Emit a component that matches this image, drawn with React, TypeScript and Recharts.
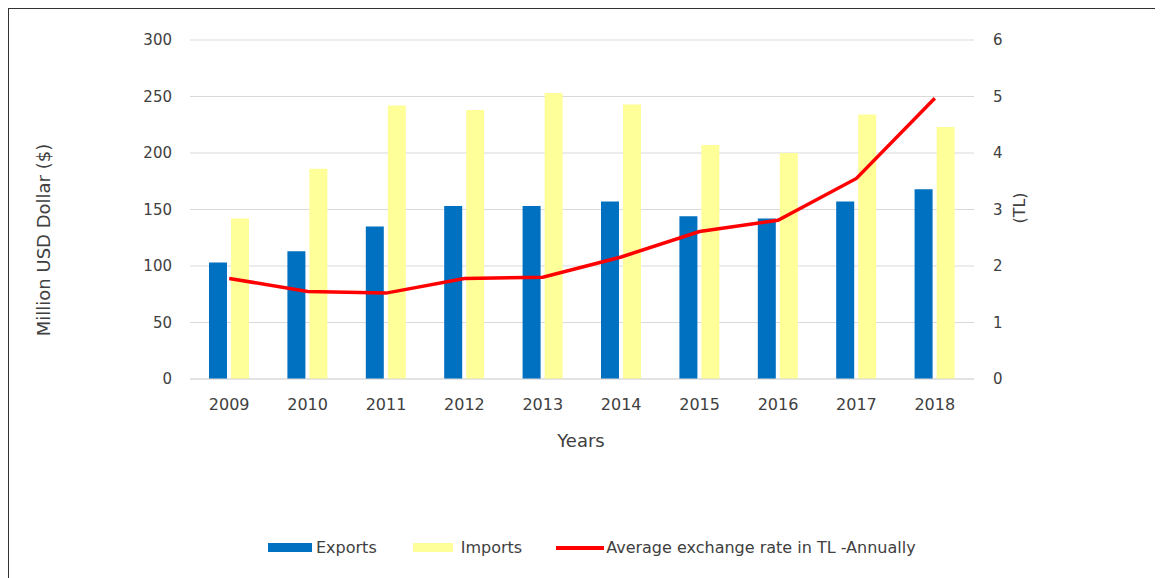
import React from "react";
import {
  ComposedChart,
  Bar,
  Line,
  XAxis,
  YAxis,
  CartesianGrid,
  Label,
} from "recharts";

const years = ["2009", "2010", "2011", "2012", "2013", "2014", "2015", "2016", "2017", "2018"];
const exportsVals = [103, 113, 135, 153, 153, 157, 144, 142, 157, 168];
const importsVals = [142, 186, 242, 238, 253, 243, 207, 200, 234, 223];
const rateVals = [1.78, 1.55, 1.52, 1.78, 1.8, 2.16, 2.61, 2.81, 3.55, 4.97];

const leftTicks = [0, 50, 100, 150, 200, 250, 300];
const rightTicks = [0, 1, 2, 3, 4, 5, 6];

const seriesNames = ["Exports", "Imports", "Average exchange rate in TL -Annually"];

const BLUE = "#0070C0";
const YELLOW = "#FFFF99";
const RED = "#FF0000";
const TEXT = "#404040";
const FONT = "'DejaVu Sans', sans-serif";

const data = years.map((y, i) => ({
  year: y,
  exports: exportsVals[i],
  imports: importsVals[i],
  rate: rateVals[i],
}));

export default function App() {
  return (
    <div
      style={{
        position: "relative",
        width: 1160,
        height: 575,
        border: "1px solid #333",
        boxSizing: "border-box",
        background: "#fff",
        fontFamily: FONT,
      }}
    >
      <ComposedChart
        width={1150}
        height={573}
        data={data}
        margin={{ top: 31, right: 125, bottom: 173, left: 121 }}
        barSize={18}
        barGap={4}
        style={{ fontFamily: FONT }}
      >
        <CartesianGrid yAxisId="left" vertical={false} stroke="#d9d9d9" />
        <XAxis
          dataKey="year"
          height={30}
          tickLine={false}
          tickSize={0}
          tickMargin={20}
          axisLine={{ stroke: "#d9d9d9" }}
          tick={{ fill: TEXT, fontSize: 16 }}
        >
          <Label
            content={() => (
              <text x={572} y={431} textAnchor="middle" dominantBaseline="central" fill={TEXT} fontSize={18}>
                Years
              </text>
            )}
          />
        </XAxis>
        <YAxis
          yAxisId="left"
          width={60}
          domain={[0, 300]}
          ticks={leftTicks}
          axisLine={false}
          tickLine={false}
          tickSize={0}
          tickMargin={18}
          tick={{ fill: TEXT, fontSize: 15 }}
        >
          <Label
            content={() => (
              <text
                x={34}
                y={231}
                transform="rotate(-90, 34, 231)"
                textAnchor="middle"
                dominantBaseline="central"
                fill={TEXT}
                fontSize={18}
              >
                Million USD Dollar ($)
              </text>
            )}
          />
        </YAxis>
        <YAxis
          yAxisId="right"
          orientation="right"
          width={60}
          domain={[0, 6]}
          ticks={rightTicks}
          axisLine={false}
          tickLine={false}
          tickSize={0}
          tickMargin={19}
          tick={{ fill: TEXT, fontSize: 15 }}
        >
          <Label
            content={() => (
              <text
                x={1010}
                y={199}
                transform="rotate(-90, 1010, 199)"
                textAnchor="middle"
                dominantBaseline="central"
                fill={TEXT}
                fontSize={16}
              >
                (TL)
              </text>
            )}
          />
        </YAxis>
        <Bar yAxisId="left" dataKey="exports" name={seriesNames[0]} fill={BLUE} isAnimationActive={false} />
        <Bar yAxisId="left" dataKey="imports" name={seriesNames[1]} fill={YELLOW} isAnimationActive={false} />
        <Line
          yAxisId="right"
          type="linear"
          dataKey="rate"
          name={seriesNames[2]}
          stroke={RED}
          strokeWidth={3.5}
          dot={false}
          isAnimationActive={false}
        />
      </ComposedChart>

      {/* legend */}
      <div
        style={{
          position: "absolute",
          left: 259,
          top: 529,
          display: "flex",
          alignItems: "center",
          fontSize: 16,
          color: TEXT,
          whiteSpace: "nowrap",
        }}
      >
        <span style={{ display: "inline-block", width: 44, height: 9, background: BLUE, marginRight: 4 }} />
        <span style={{ marginRight: 36 }}>{seriesNames[0]}</span>
        <span style={{ display: "inline-block", width: 40, height: 9, background: YELLOW, marginRight: 8 }} />
        <span style={{ marginRight: 34 }}>{seriesNames[1]}</span>
        <span style={{ display: "inline-block", width: 48, height: 4, background: RED, marginRight: 2 }} />
        <span>{seriesNames[2]}</span>
      </div>
    </div>
  );
}
